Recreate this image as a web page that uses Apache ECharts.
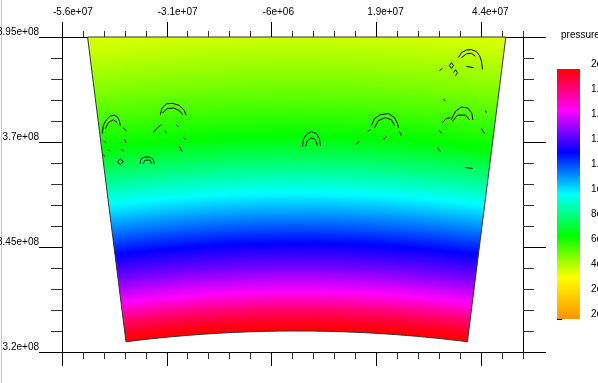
<!DOCTYPE html>
<html><head><meta charset="utf-8">
<script src="https://cdn.jsdelivr.net/npm/echarts@6/dist/echarts.min.js"></script>
<style>html,body{margin:0;padding:0;background:#fff}#c{width:598px;height:383px}</style>
</head><body><div id="c"></div>
<script>
// ---- data ----
const xRange = [-5.6e7, 5.4e7];
const yRange = [3.2e8, 3.95e8];
const xMajorTicks = [-5.6e7, -3.1e7, -6e6, 1.9e7, 4.4e7];
const yMajorTicks = [3.2e8, 3.45e8, 3.7e8, 3.95e8];
const minorStep = 5e6;
const legendTitle = 'pressure';
const pressureRange = [2e13, 2e16];
const legendTicks = [2e16, 1.8e16, 1.6e16, 1.4e16, 1.2e16, 1e16, 8e15, 6e15, 4e15, 2e15, 2e13];
const colormap = ['#ff9400', '#ffff00', '#00ff00', '#00ffff', '#0000ff', '#ff00ff', '#ff0000'];
const wedgeInnerRadius = 3.25e8;
const wedgeHalfAngleDeg = 7.2;
const profileRadius   = [3.25e8, 3.27e8, 3.30e8, 3.343e8, 3.40e8, 3.46e8, 3.52e8, 3.579e8, 3.64e8, 3.712e8, 3.78e8, 3.85e8, 3.95e8, 4.0e8];
const profilePressure = [2.0e16, 1.96e16, 1.86e16, 1.67e16, 1.49e16, 1.33e16, 1.16e16, 1.0e16, 0.84e16, 0.67e16, 0.58e16, 0.50e16, 0.40e16, 0.37e16];
const contours = [
 [[-4.638e7,3.720e8],[-4.614e7,3.739e8],[-4.543e7,3.753e8],[-4.447e7,3.762e8],[-4.351e7,3.764e8],[-4.280e7,3.760e8],[-4.232e7,3.751e8],[-4.208e7,3.739e8]],
 [[-4.566e7,3.732e8],[-4.495e7,3.746e8],[-4.375e7,3.753e8],[-4.280e7,3.746e8]],
 [[-4.280e7,3.653e8],[-4.208e7,3.660e8],[-4.137e7,3.653e8],[-4.208e7,3.646e8],[-4.280e7,3.653e8]],
 [[-4.614e7,3.703e8],[-4.543e7,3.698e8]],
 [[-4.495e7,3.682e8],[-4.447e7,3.677e8]],
 [[-4.614e7,3.670e8],[-4.566e7,3.665e8]],
 [[-4.137e7,3.734e8],[-4.065e7,3.727e8]],
 [[-4.113e7,3.706e8],[-4.065e7,3.698e8]],
 [[-4.184e7,3.682e8],[-4.137e7,3.679e8]],
 [[-3.253e7,3.765e8],[-3.213e7,3.781e8],[-3.103e7,3.791e8],[-2.960e7,3.792e8],[-2.800e7,3.787e8],[-2.680e7,3.775e8],[-2.640e7,3.764e8]],
 [[-3.199e7,3.769e8],[-3.103e7,3.779e8],[-2.943e7,3.781e8],[-2.800e7,3.775e8],[-2.721e7,3.765e8]],
 [[-3.421e7,3.722e8],[-3.325e7,3.734e8],[-3.230e7,3.741e8]],
 [[-3.158e7,3.725e8],[-3.110e7,3.722e8]],
 [[-2.872e7,3.741e8],[-2.824e7,3.737e8]],
 [[-2.696e7,3.710e8],[-2.648e7,3.706e8]],
 [[-2.800e7,3.689e8],[-2.728e7,3.677e8]],
 [[-3.738e7,3.648e8],[-3.714e7,3.660e8],[-3.635e7,3.664e8],[-3.499e7,3.664e8],[-3.421e7,3.658e8],[-3.397e7,3.648e8]],
 [[-3.671e7,3.648e8],[-3.612e7,3.657e8],[-3.504e7,3.657e8],[-3.456e7,3.648e8]],
 [[0.137e7,3.689e8],[0.160e7,3.706e8],[0.232e7,3.718e8],[0.351e7,3.725e8],[0.471e7,3.720e8],[0.542e7,3.708e8],[0.566e7,3.691e8]],
 [[0.208e7,3.689e8],[0.256e7,3.703e8],[0.351e7,3.710e8],[0.447e7,3.706e8],[0.495e7,3.691e8]],
 [[1.784e7,3.739e8],[1.855e7,3.756e8],[1.999e7,3.765e8],[2.190e7,3.768e8],[2.333e7,3.758e8],[2.404e7,3.744e8],[2.428e7,3.734e8]],
 [[1.855e7,3.734e8],[1.951e7,3.751e8],[2.118e7,3.758e8],[2.261e7,3.753e8],[2.333e7,3.739e8]],
 [[1.402e7,3.694e8],[1.497e7,3.701e8]],
 [[2.072e7,3.706e8],[2.144e7,3.713e8]],
 [[2.452e7,3.725e8],[2.500e7,3.715e8]],
 [[1.688e7,3.725e8],[1.760e7,3.729e8]],
 [[3.861e7,3.901e8],[3.932e7,3.913e8],[4.052e7,3.919e8],[4.171e7,3.920e8],[4.290e7,3.915e8],[4.362e7,3.906e8],[4.410e7,3.892e8],[4.433e7,3.873e8]],
 [[3.932e7,3.901e8],[4.052e7,3.910e8],[4.171e7,3.911e8],[4.266e7,3.904e8]],
 [[3.646e7,3.882e8],[3.693e7,3.889e8],[3.741e7,3.882e8],[3.693e7,3.875e8],[3.646e7,3.882e8]],
 [[4.052e7,3.880e8],[4.219e7,3.877e8]],
 [[3.741e7,3.865e8],[3.789e7,3.872e8],[3.837e7,3.865e8],[3.789e7,3.858e8]],
 [[3.407e7,3.870e8],[3.479e7,3.875e8]],
 [[3.502e7,3.801e8],[3.550e7,3.799e8]],
 [[3.686e7,3.753e8],[3.789e7,3.773e8],[3.925e7,3.783e8],[4.083e7,3.781e8],[4.178e7,3.769e8],[4.202e7,3.753e8]],
 [[3.717e7,3.749e8],[3.837e7,3.764e8],[4.028e7,3.764e8],[4.124e7,3.753e8]],
 [[3.479e7,3.746e8],[3.574e7,3.756e8],[3.670e7,3.758e8]],
 [[3.407e7,3.727e8],[3.455e7,3.720e8]],
 [[3.359e7,3.687e8],[3.431e7,3.677e8]],
 [[4.410e7,3.732e8],[4.481e7,3.720e8]],
 [[4.505e7,3.775e8],[4.529e7,3.770e8]],
 [[4.028e7,3.639e8],[4.195e7,3.637e8]]
];

// ---- helpers ----
const FONT = 'Liberation Sans';
function fmtExp(v) {
  return Number(v).toExponential().replace(/e([+-])(\d)$/, (m, s, d) => 'e' + s + '0' + d);
}
function hexToRgb(h) { return [parseInt(h.slice(1,3),16), parseInt(h.slice(3,5),16), parseInt(h.slice(5,7),16)]; }
function cmap(t) {
  t = Math.max(0, Math.min(1, t));
  const n = colormap.length - 1, f = t * n;
  const i = Math.min(Math.floor(f), n - 1), u = f - i;
  const a = hexToRgb(colormap[i]), b = hexToRgb(colormap[i + 1]);
  return 'rgb(' + a.map((c, k) => Math.round(c + (b[k] - c) * u)).join(',') + ')';
}
function pressureAt(r) {
  if (r <= profileRadius[0]) return profilePressure[0];
  for (let i = 1; i < profileRadius.length; i++) {
    if (r <= profileRadius[i]) {
      const u = (r - profileRadius[i-1]) / (profileRadius[i] - profileRadius[i-1]);
      return profilePressure[i-1] + u * (profilePressure[i] - profilePressure[i-1]);
    }
  }
  return profilePressure[profilePressure.length - 1];
}
function ticksBetween(range, step, majors) {
  const out = [];
  for (let k = 0; range[0] + k * step <= range[1] + 1; k++) {
    const v = range[0] + k * step;
    if (!majors.some(m => Math.abs(m - v) < 1)) out.push(v);
  }
  return out;
}
const xMinor = ticksBetween(xRange, minorStep, xMajorTicks);
const yMinor = ticksBetween(yRange, minorStep, yMajorTicks);

const lineBlack = { color: '#000', width: 1 };
const lineMinor = { color: '#333', width: 1 };
function xAx(pos, vals, len, labels, line) {
  return {
    type: 'value', gridIndex: 0, position: pos, min: xRange[0], max: xRange[1],
    axisLine: { show: line, onZero: false, lineStyle: lineBlack },
    axisTick: { show: true, inside: false, length: len, customValues: vals, lineStyle: line ? lineBlack : lineMinor },
    axisLabel: labels ? { show: true, customValues: vals, formatter: fmtExp, align: 'left',
      padding: [0, 0, 0, -9], margin: 20, fontSize: 10, color: '#000', fontFamily: FONT } : { show: false },
    splitLine: { show: false }
  };
}
function yAx(pos, vals, len, labels, line) {
  return {
    type: 'value', gridIndex: 0, position: pos, min: yRange[0], max: yRange[1],
    axisLine: { show: line, onZero: false, lineStyle: lineBlack },
    axisTick: { show: true, inside: false, length: len, customValues: vals, lineStyle: line ? lineBlack : lineMinor },
    axisLabel: labels ? { show: true, customValues: vals, formatter: fmtExp, align: 'right',
      verticalAlign: 'bottom', margin: 23, fontSize: 10, color: '#000', fontFamily: FONT } : { show: false },
    splitLine: { show: false }
  };
}

const contourSeries = contours.map(path => ({
  type: 'line', xAxisIndex: 0, yAxisIndex: 0, data: path, symbol: 'none', showSymbol: false,
  lineStyle: { color: '#000', width: 1 }, silent: true, z: 5, animation: false
}));

const option = {
  animation: false,
  backgroundColor: '#fff',
  title: { text: legendTitle, left: 556, top: 25, textStyle: { fontSize: 10, fontWeight: 'normal', color: '#000', fontFamily: FONT } },
  grid: [
    { left: 62, right: 75, top: 37, bottom: 31, containLabel: false, outerBoundsMode: 'none' },
    { left: 557, top: 69, width: 23, height: 250, containLabel: false, outerBoundsMode: 'none' }
  ],
  xAxis: [
    xAx('top', xMajorTicks, 15, true, true),
    xAx('top', xMinor, 6, false, false),
    xAx('bottom', xMajorTicks, 14, false, true),
    xAx('bottom', xMinor, 7, false, false),
    { type: 'value', gridIndex: 1, min: 0, max: 1, show: false }
  ],
  yAxis: [
    yAx('left', yMajorTicks, 23, true, true),
    yAx('left', yMinor, 11, false, false),
    yAx('right', yMajorTicks, 23, false, true),
    yAx('right', yMinor, 11, false, false),
    {
      type: 'value', gridIndex: 1, position: 'right', min: pressureRange[0], max: pressureRange[1],
      axisLine: { show: false },
      axisTick: { show: true, length: 5, customValues: legendTicks, lineStyle: lineBlack },
      axisLabel: { show: true, customValues: legendTicks, formatter: fmtExp, margin: 11, align: 'left',
        verticalAlign: 'bottom', fontSize: 10, color: '#000', fontFamily: FONT },
      splitLine: { show: false }
    }
  ],
  graphic: [
    { type: 'line', shape: { x1: 1.5, y1: 0, x2: 1.5, y2: 383 }, style: { stroke: '#c4c4c4', lineWidth: 1 }, z: -1 }
  ],
  series: [
    {
      type: 'custom', xAxisIndex: 0, yAxisIndex: 0, data: [[0, 3.5e8]], z: 1, silent: true,
      renderItem: function (params, api) {
        const halfA = wedgeHalfAngleDeg * Math.PI / 180;
        const yTop = yRange[1];
        const pts = [api.coord([-yTop * Math.tan(halfA), yTop]), api.coord([yTop * Math.tan(halfA), yTop])];
        const N = 80;
        for (let k = 0; k <= N; k++) {
          const a = halfA - 2 * halfA * k / N;
          pts.push(api.coord([wedgeInnerRadius * Math.sin(a), wedgeInnerRadius * Math.cos(a)]));
        }
        const c0 = api.coord([0, 0]);
        const Rd = profileRadius[profileRadius.length - 1];
        const Rpx = c0[1] - api.coord([0, Rd])[1];
        const stops = [];
        const r0 = 3.1e8, M = 180;
        stops.push({ offset: 0, color: cmap(1) });
        for (let k = 0; k <= M; k++) {
          const r = r0 + (Rd - r0) * k / M;
          const t = (pressureAt(r) - pressureRange[0]) / (pressureRange[1] - pressureRange[0]);
          stops.push({ offset: r / Rd, color: cmap(t) });
        }
        return {
          type: 'polygon', shape: { points: pts },
          style: { fill: new echarts.graphic.RadialGradient(c0[0], c0[1], Rpx, stops, true), stroke: '#333', lineWidth: 1 }
        };
      }
    },
    {
      type: 'custom', xAxisIndex: 4, yAxisIndex: 4, data: [[0, pressureRange[1]]], silent: true,
      renderItem: function (params, api) {
        const p0 = api.coord([0, pressureRange[1]]);
        const p1 = api.coord([1, pressureRange[0]]);
        const stops = colormap.map((c, i) => ({ offset: i / (colormap.length - 1), color: c }));
        return {
          type: 'rect', shape: { x: p0[0], y: p0[1], width: p1[0] - p0[0], height: p1[1] - p0[1] },
          style: { fill: new echarts.graphic.LinearGradient(0, 1, 0, 0, stops) }
        };
      }
    }
  ].concat(contourSeries)
};
const chart = echarts.init(document.getElementById('c'), null, { renderer: 'canvas' });
chart.setOption(option);
</script>
</body></html>
